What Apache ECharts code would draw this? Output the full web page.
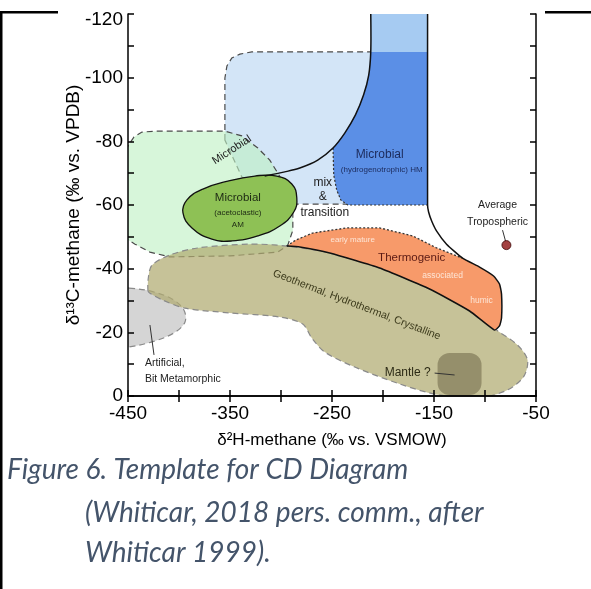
<!DOCTYPE html>
<html>
<head>
<meta charset="utf-8">
<script src="https://cdn.jsdelivr.net/npm/echarts@6/dist/echarts.min.js"></script>
<style>
  html, body { margin: 0; padding: 0; background: #fff; }
  #chart { width: 591px; height: 589px; }
</style>
</head>
<body>
<div id="chart"></div>
<script>
// Axis ranges and the tick values that carry a label
const xLabelValues = [-450, -350, -250, -150, -50];
const yLabelValues = [-120, -100, -80, -60, -40, -20, 0];

// Field outlines, as [δ2H, δ13C] vertices
const hmCap = [[-212, -120], [-156.3, -120], [-156.3, -108.1], [-212, -108.1]];

const microbialDivide = [
  [-212, -120], [-212, -108.1], [-214, -100.8], [-219, -94.6], [-227, -88.3],
  [-237.5, -82.6], [-249, -77.9], [-264, -74.1], [-281.6, -71.6], [-296.3, -70.4], [-316, -69.1]
];

const hmDottedEdge = [
  [-249, -77.9], [-248.3, -69.4], [-245.4, -64.7], [-241.4, -61.6], [-234.6, -60.0], [-156.3, -60.0]
];

const microbialEnvelope = [
  [-355, -80.4], [-355, -99.9], [-353, -103.7], [-348.2, -106.2], [-340.3, -107.4], [-328.6, -108.1],
  [-211, -108.1], [-211, -60.3], [-291.4, -60.3], [-318.8, -64.7], [-338.4, -68.8]
];

const microbialLowland = [
  [-455, -74.1], [-450, -78.6], [-444.1, -81.4], [-436.3, -82.9], [-423.6, -83.2], [-355, -83.2],
  [-338.4, -81.7], [-322.7, -77.9], [-311, -74.1], [-303.1, -70.0], [-293.4, -64.7], [-288.4, -58.4],
  [-288.4, -52.1], [-293.3, -47.4], [-303.1, -45.2], [-350.1, -44.0], [-408.9, -43.7], [-428.5, -45.2],
  [-443.1, -47.7], [-455, -50]
];

const acetoclasticField = [
  [-284.5, -62.2], [-289.4, -66.6], [-304.1, -69.1], [-325.6, -69.1], [-352.1, -67.5], [-376.6, -65.0],
  [-392.2, -61.6], [-396.1, -57.5], [-387.3, -52.8], [-367.8, -49.3], [-348.2, -48.7], [-322.7, -50.3],
  [-301.2, -53.4], [-287.5, -57.8]
];

const thermogenicTop = [
  [-294.3, -47.1], [-285.5, -49.0], [-268.9, -51.2], [-235.6, -52.8], [-203.3, -52.8], [-170.9, -50.3],
  [-147.4, -46.5], [-122, -43.3]
];

const thermogenicEnvelope = [
  [-156.3, -120], [-156.3, -60], [-155.3, -57.8], [-152.3, -55.0], [-147.4, -51.8], [-137.7, -47.7],
  [-122, -43.3], [-105.3, -40.5], [-91.6, -37.7], [-85.8, -35.2], [-83.8, -32.0], [-83.8, -24.5],
  [-85.8, -22.0], [-90.7, -20.7], [-115.1, -26.7], [-154.3, -33.6], [-203.3, -40.2], [-252.2, -44.9],
  [-281.6, -46.8], [-294.3, -47.1]
];

const geothermalField = [
  [-430.4, -33], [-430, -37.3], [-426.5, -41.1], [-409, -44.3], [-382, -46.5], [-330.5, -47.7],
  [-294.3, -47.1], [-252.2, -44.9], [-203.3, -40.2], [-154.3, -33.6], [-115.1, -27.0], [-88.7, -20.7],
  [-68.1, -16.0], [-58.3, -11.3], [-62.2, -6.0], [-78, -1.9], [-100.5, 0.2], [-144.5, -0.3],
  [-183.7, -3.8], [-227.7, -9.1], [-257.1, -13.8], [-269.8, -18.2], [-278.7, -22.6], [-301.2, -24.8],
  [-350.1, -26.1], [-394.2, -27.6], [-415.7, -30.1], [-428.5, -32.3]
];

const artificialField = [
  [-449, -33.9], [-428.5, -33.0], [-406.9, -30.5], [-395.2, -27.0], [-394.2, -23.2], [-405, -19.8],
  [-426.5, -17.0], [-449, -15.4], [-460, -15.0], [-460, -34]
];

const mantleBox = [[-146.5, -13.5], [-103.4, -0.3]];

const troposphericMethane = [[-79, -47.4]];

const leaderLines = [
  [[-428.5, -22.3], [-424.5, -12.9]],
  [[-149.4, -7.2], [-129.8, -6.6]],
  [[-82.8, -52.1], [-79.9, -48.7]]
];

const labelTexts = [
  'Microbial', 'Microbial', '(acetoclastic)', 'AM', 'Microbial', '(hydrogenotrophic) HM',
  'mix', '&', 'transition', 'Thermogenic', 'early mature', 'associated', 'humic',
  'Geothermal, Hydrothermal, Crystalline', 'Mantle ?', 'Artificial,', 'Bit Metamorphic',
  'Average', 'Tropospheric'
];
const labelAnchors = [
  [-348.2, -77.3], [-342.3, -62.2], [-342.3, -57.6], [-342.3, -53.9], [-203.3, -75.7], [-201.3, -71.0],
  [-259.1, -66.9], [-259.1, -62.5], [-257.1, -57.5], [-171.9, -43.3], [-229.7, -49.0], [-141.6, -37.7],
  [-103.4, -29.8], [-225.8, -28.6], [-175.8, -7.2], [-433.4, -10.4], [-433.4, -5.3], [-87.7, -60.0],
  [-87.7, -54.7]
];

// ---- drawing ----
const FONT = "'Liberation Sans', Arial, sans-serif";
const CAPTION_FONT = 'Lato, "Open Sans", sans-serif';

const labelLooks = [
  { size: 11, color: '#222', rot: 33 },
  { size: 11.5, color: '#1e2a14' },
  { size: 8, color: '#1e2a14' },
  { size: 8, color: '#1e2a14' },
  { size: 12, color: '#1c2b5c' },
  { size: 8, color: '#1c2b5c' },
  { size: 12, color: '#222' },
  { size: 12, color: '#222' },
  { size: 12, color: '#222' },
  { size: 11.5, color: '#5a1a14' },
  { size: 8, color: '#fde5d6' },
  { size: 8.5, color: '#fde5d6' },
  { size: 8.5, color: '#fde5d6' },
  { size: 10.5, color: '#3c3a1c', rot: -21 },
  { size: 12, color: '#2d2b16' },
  { size: 10.5, color: '#222', align: 'left' },
  { size: 10.5, color: '#222', align: 'left' },
  { size: 10.5, color: '#222' },
  { size: 10.5, color: '#222' }
];

function shapeSeries(points, closed, style, smooth) {
  return {
    type: 'custom',
    coordinateSystem: 'cartesian2d',
    clip: true,
    silent: true,
    animation: false,
    data: points,
    renderItem: function (params, api) {
      if (params.dataIndex !== 0) return null;
      const pts = points.map(p => api.coord(p));
      return {
        type: closed ? 'polygon' : 'polyline',
        shape: { points: pts, smooth: smooth || 0 },
        style: Object.assign(closed ? {} : { fill: null }, style)
      };
    }
  };
}

const dashed = { stroke: '#4a4a4a', lineWidth: 1.2, lineDash: [6, 4] };
const lightDashed = { stroke: '#8a8a8a', lineWidth: 1.2, lineDash: [6, 4] };

const series = [
  // pale blue microbial envelope
  shapeSeries(microbialEnvelope, true, Object.assign({ fill: '#d3e5f7' }, dashed), 0),
  // HM column top and body
  shapeSeries(hmCap, true, { fill: '#a6cbf2' }, 0),
  shapeSeries(microbialDivide.slice(1, 7).concat(hmDottedEdge.slice(1), [[-156.3, -108.1]]), true,
    { fill: '#5b8fe6' }, 0),
  // pale green microbial field
  shapeSeries(microbialLowland, true, Object.assign({ fill: 'rgba(190,240,196,0.62)' }, dashed), 0),
  // grey artificial field
  shapeSeries(artificialField, true, Object.assign({ fill: '#d5d5d5' }, lightDashed), 0.35),
  // geothermal field
  shapeSeries(geothermalField, true, Object.assign({ fill: 'rgba(176,171,112,0.72)' }, lightDashed), 0.3),
  // thermogenic field
  shapeSeries(thermogenicTop.concat(thermogenicEnvelope.slice(7, 19)), true, { fill: '#f79a6a' }, 0),
  // acetoclastic ellipse
  shapeSeries(acetoclasticField, true, { fill: '#8ec155', stroke: '#111', lineWidth: 1.3 }, 0.45),
  // dividing lines
  shapeSeries(hmDottedEdge, false, { stroke: '#333', lineWidth: 1.2, lineDash: [2, 2] }, 0),
  shapeSeries(thermogenicTop, false, { stroke: '#333', lineWidth: 1.3, lineDash: [2, 2] }, 0),
  shapeSeries(microbialDivide, false, { stroke: '#111', lineWidth: 1.5 }, 0.3),
  shapeSeries(thermogenicEnvelope, false, { stroke: '#111', lineWidth: 1.5 }, 0.15),
  // mantle box
  {
    type: 'custom', coordinateSystem: 'cartesian2d', clip: true, silent: true, animation: false,
    data: mantleBox,
    renderItem: function (params, api) {
      if (params.dataIndex !== 0) return null;
      const a = api.coord(mantleBox[0]);
      const b = api.coord(mantleBox[1]);
      return {
        type: 'rect',
        shape: { x: a[0], y: a[1], width: b[0] - a[0], height: b[1] - a[1], r: 12 },
        style: { fill: '#958f6b' }
      };
    }
  },
  // leader lines
  {
    type: 'custom', coordinateSystem: 'cartesian2d', silent: true, animation: false,
    data: leaderLines.map((l, i) => [l[0][0], l[0][1], i]),
    renderItem: function (params, api) {
      const seg = leaderLines[params.dataIndex];
      const a = api.coord(seg[0]);
      const b = api.coord(seg[1]);
      return { type: 'line', shape: { x1: a[0], y1: a[1], x2: b[0], y2: b[1] }, style: { stroke: '#333', lineWidth: 1 } };
    }
  },
  // tropospheric point
  {
    type: 'scatter', data: troposphericMethane, symbolSize: 9, silent: true, animation: false,
    itemStyle: { color: '#8c1111', borderColor: '#3b0505', borderWidth: 1 }, z: 5
  },
  // region labels
  {
    type: 'custom', coordinateSystem: 'cartesian2d', silent: true, animation: false, z: 6,
    data: labelAnchors,
    renderItem: function (params, api) {
      const i = params.dataIndex;
      const look = labelLooks[i];
      const p = api.coord([api.value(0), api.value(1)]);
      return {
        type: 'text',
        x: p[0], y: p[1],
        rotation: (look.rot || 0) * Math.PI / 180,
        style: {
          text: labelTexts[i],
          fill: look.color,
          fontSize: look.size,
          fontFamily: FONT,
          align: look.align || 'center',
          verticalAlign: 'middle'
        }
      };
    }
  }
];

const axisLineStyle = { color: '#000', width: 1.5 };
const tickStyle = { inside: true, length: 6, lineStyle: { color: '#000', width: 1.5 } };

function captionLine(text, x, y) {
  return {
    type: 'text', x: x, y: y, silent: true,
    style: { text: text, fill: '#44546a', fontSize: 28, fontStyle: 'italic', fontFamily: CAPTION_FONT, verticalAlign: 'middle' }
  };
}

const option = {
  backgroundColor: '#fff',
  animation: false,
  grid: { left: 128, right: 55, top: 14, bottom: 193 },
  xAxis: [
    {
      type: 'value', min: -450, max: -50, interval: 50, position: 'bottom', z: 10,
      axisLine: { lineStyle: axisLineStyle }, axisTick: tickStyle, splitLine: { show: false },
      axisLabel: {
        color: '#000', fontSize: 19, fontFamily: FONT, margin: 8,
        formatter: v => xLabelValues.includes(Math.round(v)) ? String(Math.round(v)) : ''
      },
      name: 'δ²H-methane (‰ vs. VSMOW)', nameLocation: 'middle', nameGap: 36, nameMoveOverlap: false,
      nameTextStyle: { color: '#000', fontSize: 17, fontFamily: FONT }
    },
    {
      type: 'value', min: -450, max: -50, interval: 50, position: 'top', z: 10,
      axisLine: { lineStyle: axisLineStyle }, axisTick: tickStyle, splitLine: { show: false },
      axisLabel: { show: false }
    }
  ],
  yAxis: [
    {
      type: 'value', min: -120, max: 0, interval: 10, inverse: true, position: 'left', z: 10,
      axisLine: { lineStyle: axisLineStyle }, axisTick: tickStyle, splitLine: { show: false },
      axisLabel: {
        color: '#000', fontSize: 19, fontFamily: FONT, margin: 5,
        formatter: v => {
          const r = Math.round(v);
          if (!yLabelValues.includes(r)) return '';
          // the top label sits just below the frame edge
          return r === -120 ? '{top|' + r + '}' : String(r);
        },
        rich: { top: { fontSize: 19, fontFamily: FONT, color: '#000', padding: [12, 0, 0, 0] } }
      },
      name: 'δ¹³C-methane (‰ vs. VPDB)', nameLocation: 'middle', nameGap: 45, nameRotate: 90, nameMoveOverlap: false,
      nameTextStyle: { color: '#000', fontSize: 19, fontFamily: FONT }
    },
    {
      type: 'value', min: -120, max: 0, interval: 10, inverse: true, position: 'right', z: 10,
      axisLine: { lineStyle: axisLineStyle }, axisTick: tickStyle, splitLine: { show: false },
      axisLabel: { show: false }
    }
  ],
  graphic: [
    { type: 'rect', shape: { x: 0, y: 11, width: 2.5, height: 578 }, style: { fill: '#000' }, silent: true },
    { type: 'rect', shape: { x: 0, y: 11, width: 58, height: 2.5 }, style: { fill: '#000' }, silent: true },
    { type: 'rect', shape: { x: 545, y: 11, width: 46, height: 2.5 }, style: { fill: '#000' }, silent: true },
    captionLine('Figure 6. Template for CD Diagram', 7, 470),
    captionLine('(Whiticar, 2018 pers. comm., after', 85, 513),
    captionLine('Whiticar 1999).', 85, 553)
  ],
  series: series
};

const chart = echarts.init(document.getElementById('chart'), null, { renderer: 'canvas' });
chart.setOption(option);
</script>
</body>
</html>
